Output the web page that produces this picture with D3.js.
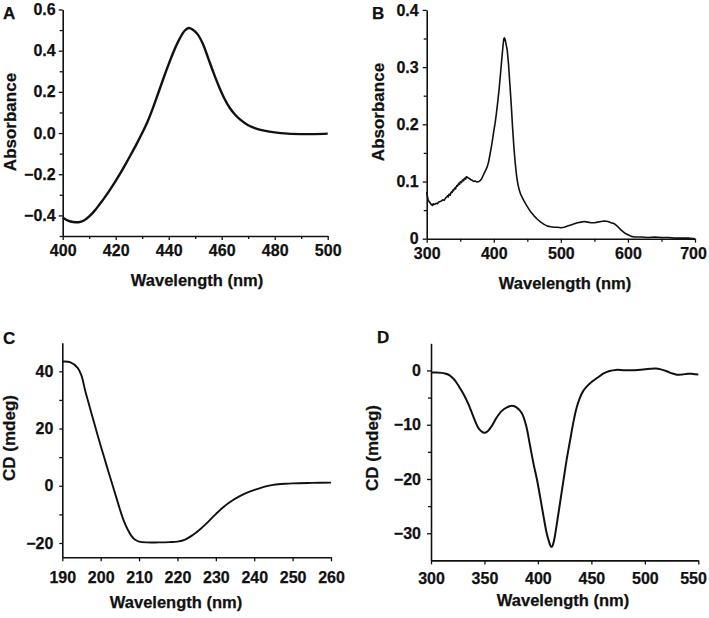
<!DOCTYPE html>
<html><head><meta charset="utf-8">
<script src="https://cdn.jsdelivr.net/npm/d3@7"></script>
<style>
body{margin:0;background:#fff;}
svg text{font-family:"Liberation Sans",Arial,sans-serif;font-weight:bold;fill:#111;stroke:#111;stroke-width:0.25px;}
</style></head>
<body><svg id="c" width="709" height="618"></svg>
<script>
// ---- Panel A: absorbance 400–500 nm ----
const aWave = [400,402,404,406,408,410,412,414,416,418,420,422,424,426,428,430,432,434,436,438,440,442,444,446,447.5,449,451,453,455,457,459,461,463,465,467,470,473,476,480,485,490,495,500];
const aAbs  = [-0.41,-0.425,-0.432,-0.433,-0.425,-0.405,-0.378,-0.345,-0.31,-0.272,-0.232,-0.19,-0.145,-0.098,-0.05,0.0,0.055,0.12,0.192,0.265,0.335,0.40,0.455,0.497,0.51,0.503,0.478,0.43,0.36,0.29,0.225,0.168,0.123,0.09,0.065,0.038,0.022,0.012,0.003,-0.003,-0.005,-0.005,-0.003];
const aXTicks = [400,420,440,460,480,500];
const aYTicks = [-0.4,-0.2,0.0,0.2,0.4,0.6];

// ---- Panel B: absorbance 300–700 nm ----
const bWave = [300,301,302,303,304,305,306,307,308,309,310,312,314,316,318,320,322,324,326,328,330,331,332,333,334,335,336,337,338,339,340,341,342,343,344,345,346,347,348,349,350,351,352,353,354,355,356,357,358,359,360,362,364,366,368,370,372,375,378,380,382,384,386,388,390,392,394,396,398,400,402,404,406,408,410,412,414,415,416,417,418,420,422,424,426,428,430,432,434,436,438,440,442,445,448,450,455,460,465,470,475,480,485,490,495,500,505,510,515,520,525,530,535,540,545,550,555,560,565,570,575,580,585,590,595,600,605,610,620,630,640,650,660,670,680,690,700];
const bAbs  = [0.082,0.074,0.069,0.066,0.064,0.063,0.061,0.059,0.060,0.058,0.061,0.060,0.062,0.061,0.064,0.065,0.066,0.068,0.067,0.071,0.073,0.075,0.073,0.077,0.078,0.076,0.080,0.082,0.081,0.085,0.084,0.087,0.089,0.087,0.091,0.093,0.092,0.095,0.097,0.095,0.099,0.100,0.098,0.102,0.103,0.101,0.105,0.106,0.104,0.108,0.108,0.106,0.105,0.103,0.102,0.100,0.101,0.099,0.100,0.102,0.105,0.110,0.115,0.120,0.125,0.133,0.145,0.158,0.172,0.188,0.202,0.220,0.240,0.262,0.288,0.315,0.340,0.350,0.351,0.348,0.342,0.330,0.305,0.270,0.235,0.195,0.160,0.132,0.110,0.095,0.085,0.078,0.073,0.066,0.060,0.056,0.047,0.040,0.034,0.029,0.025,0.022,0.021,0.020,0.020,0.019,0.020,0.022,0.024,0.026,0.028,0.029,0.030,0.029,0.028,0.028,0.029,0.030,0.031,0.030,0.028,0.026,0.021,0.015,0.010,0.007,0.004,0.003,0.003,0.002,0.003,0.002,0.002,0.001,0.001,0.001,0.000];
const bXTicks = [300,400,500,600,700];
const bYTicks = [0,0.1,0.2,0.3,0.4];

// ---- Panel C: CD 190–260 nm ----
const cWave = [190,192,194,195,196,197,198,199,200,201,202,203,204,205,206,207,208,209,210,212,215,218,220,222,224,226,228,230,232,234,236,238,240,243,245,248,250,255,260];
const cCD   = [43.4,43.2,41.2,38.5,33,28.2,23.4,18.6,14,9.5,5,0.6,-3.8,-8.2,-12.2,-15.2,-17.5,-18.9,-19.5,-19.8,-19.8,-19.7,-19.5,-18.8,-17.2,-15.1,-12.6,-9.9,-7.4,-5.4,-3.8,-2.5,-1.5,-0.2,0.3,0.7,0.85,1.0,1.1];
const cXTicks = [190,200,210,220,230,240,250,260];
const cYTicks = [-20,0,20,40];

// ---- Panel D: CD 300–550 nm ----
const dWave = [300,305,310,313,316,319,322,326,330,335,338,341,344,347,350,353,357,361,366,371,376,380,385,389,392.5,396,399,402,405,408,410,412,413,415,417.5,420,423.7,427,430,433,436,439,442,446,451,456,461,467,473,480,490,500,505,510,515,520,525,530,535,540,545,550];
const dCD   = [-0.4,-0.4,-0.45,-0.55,-0.75,-1.15,-1.75,-2.9,-4.2,-6.2,-7.7,-9.2,-10.5,-11.2,-11.5,-11.2,-10.2,-8.8,-7.5,-6.8,-6.5,-6.8,-7.9,-10.2,-13.7,-17.3,-20,-23.2,-26.6,-29.8,-31.3,-32.4,-32.5,-31.4,-28.5,-25.3,-20.5,-16.3,-13,-9.7,-7,-5.2,-3.9,-2.9,-2.0,-1.3,-0.6,-0.1,0.1,0.05,0.05,0.2,0.3,0.35,0.2,-0.1,-0.5,-0.8,-0.75,-0.6,-0.65,-0.75];
const dXTicks = [300,350,400,450,500,550];
const dYTicks = [-30,-20,-10,0];

const svg = d3.select("#c");
const fmt1 = d3.format(".1f");
const smooth = d3.curveCatmullRom.alpha(0.5);

const panels = [
  {letter:"A", lx:3, ly:19, wave:aWave, val:aAbs, xd:[400,500], yd:[-0.5,0.6], xr:[62.7,327.7], yr:[236,9.5],
   xt:aXTicks, xm:d3.range(410,500,20), yt:aYTicks, ym:[-0.5,-0.3,-0.1,0.1,0.3,0.5], yf:fmt1,
   xlab:[197,286], ylab:[16,122], ytitle:"Absorbance", lw:2.4, curve:smooth, xpad:5, yts:4, ypad:3},
  {letter:"B", lx:372, ly:19, wave:bWave, val:bAbs, xd:[300,700], yd:[0,0.4], xr:[426.7,695], yr:[238.7,9.9],
   xt:bXTicks, xm:[350,450,550,650], yt:bYTicks, ym:[0.05,0.15,0.25,0.35], yf:d=>d===0?"0":fmt1(d),
   xlab:[565,289], ylab:[384,112], ytitle:"Absorbance", lw:1.6, curve:d3.curveLinear, xpad:5, yts:4, ypad:4},
  {letter:"C", lx:3, ly:344, wave:cWave, val:cCD, xd:[190,260], yd:[-25,50], xr:[62.3,331], yr:[557.3,342.7],
   xt:cXTicks, xm:[], yt:cYTicks, ym:[-10,10,30], yf:d=>d3.format("d")(d),
   xlab:[176,608], ylab:[15,438], ytitle:"CD (mdeg)", lw:1.9, curve:smooth, xpad:10, yts:3, ypad:6},
  {letter:"D", lx:377, ly:343, wave:dWave, val:dCD, xd:[300,550], yd:[-35,5], xr:[431,698.3], yr:[560.4,343.3],
   xt:dXTicks, xm:[], yt:dYTicks, ym:[-25,-15,-5], yf:d=>d3.format("d")(d),
   xlab:[563,606], ylab:[378,448], ytitle:"CD (mdeg)", lw:2.0, curve:smooth, xpad:8, yts:4, ypad:6}
];

panels.forEach(p => {
  const x = d3.scaleLinear().domain(p.xd).range(p.xr);
  const y = d3.scaleLinear().domain(p.yd).range(p.yr);
  const g = svg.append("g");

  // minor ticks
  g.append("g").attr("transform",`translate(0,${p.yr[0]})`)
    .call(d3.axisBottom(x).tickValues(p.xm).tickFormat("").tickSize(3).tickSizeOuter(0))
    .call(s=>s.select(".domain").remove());
  g.append("g").attr("transform",`translate(${p.xr[0]},0)`)
    .call(d3.axisLeft(y).tickValues(p.ym).tickFormat("").tickSize(3).tickSizeOuter(0))
    .call(s=>s.select(".domain").remove());

  // major axes
  const xa = g.append("g").attr("transform",`translate(0,${p.yr[0]})`)
    .call(d3.axisBottom(x).tickValues(p.xt).tickFormat(d3.format("d")).tickSize(4).tickPadding(p.xpad).tickSizeOuter(0));
  const ya = g.append("g").attr("transform",`translate(${p.xr[0]},0)`)
    .call(d3.axisLeft(y).tickValues(p.yt).tickFormat(p.yf).tickSize(p.yts).tickPadding(p.ypad).tickSizeOuter(0));
  [xa,ya].forEach(a=>{
    a.selectAll("text").style("font-size","16px").attr("fill","#111");
    a.select(".domain").attr("stroke","#111").attr("stroke-width",1.6);
  });
  g.selectAll(".tick line").attr("stroke","#111").attr("stroke-width",1.3);
  g.selectAll("text").attr("font-family",null);

  // keep last x label inside the canvas
  xa.selectAll(".tick text").each(function(){
    const bb = this.getBBox();
    const t = d3.select(this.parentNode).attr("transform");
    const tx = +t.match(/translate\(([-\d.]+)/)[1];
    const over = tx + bb.x + bb.width - 707;
    if (over > 0) d3.select(this).attr("x", -over);
  });

  // curve
  const line = d3.line().x((d,i)=>x(p.wave[i])).y(d=>y(d)).curve(p.curve);
  g.append("path").datum(p.val).attr("d",line)
    .attr("fill","none").attr("stroke","#111").attr("stroke-width",p.lw).attr("stroke-linejoin","round");

  // titles
  g.append("text").attr("x",p.xlab[0]).attr("y",p.xlab[1]).attr("text-anchor","middle")
    .style("font-size","16.5px").text("Wavelength (nm)");
  g.append("text").attr("transform",`translate(${p.ylab[0]},${p.ylab[1]}) rotate(-90)`)
    .attr("text-anchor","middle").style("font-size","17px").text(p.ytitle);
  g.append("text").attr("x",p.lx).attr("y",p.ly).style("font-size","17px").text(p.letter);
});
</script></body></html>
